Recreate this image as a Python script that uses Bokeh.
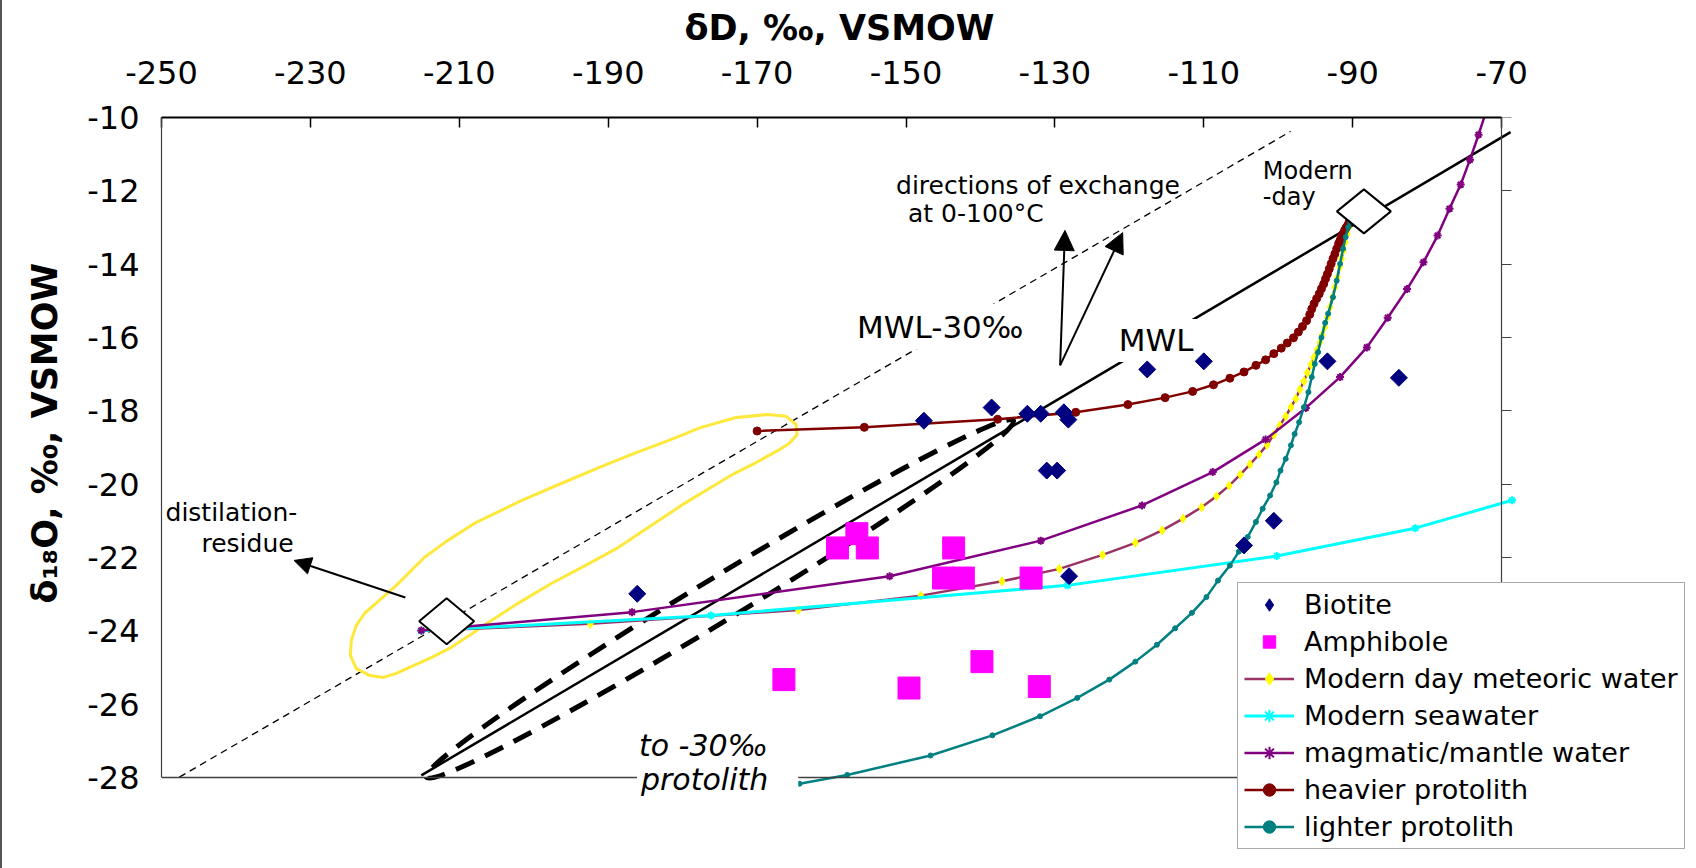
import numpy as np
from bokeh.plotting import figure
from bokeh.models import (Range1d, LinearAxis, FixedTicker, Label, Arrow, NormalHead,
                          Legend, LegendItem, Title)
from bokeh.embed import file_html
from bokeh.resources import INLINE

# ---------------- data ----------------
x_ticks = [-250, -230, -210, -190, -170, -150, -130, -110, -90, -70]
y_ticks = [-10, -12, -14, -16, -18, -20, -22, -24, -26, -28]

biotite_dD = [-186.1, -147.6, -138.5, -133.7, -131.9, -128.8, -128.2, -131.1, -129.7,
              -128.1, -117.6, -110.0, -104.6, -100.6, -93.4, -83.8]
biotite_d18O = [-22.99, -18.27, -17.91, -18.08, -18.08, -18.04, -18.24, -19.63, -19.63,
                -22.51, -16.87, -16.65, -21.67, -21.0, -16.65, -17.1]

amph_dD = [-166.4, -159.2, -156.6, -155.2, -149.6, -144.96, -143.6, -142.3, -139.8, -133.2, -132.1]
amph_d18O = [-25.33, -21.74, -21.35, -21.74, -25.56, -22.56, -21.74, -22.56, -24.84, -22.56, -25.52]

meteoric_dD = [-215.1, -192.4, -164.45, -148.0, -137.1, -129.4, -123.6, -119.2, -115.6, -112.8,
               -110.3, -108.3, -106.6, -105.1, -103.8, -102.6, -101.5, -100.6, -99.8, -99.0,
               -98.3, -97.65, -97.1, -96.55, -96.1, -95.6, -95.2, -94.8, -94.4, -94.1,
               -93.75, -93.4, -93.05, -92.7, -92.4, -92.05, -91.75, -91.5, -91.25, -91.0,
               -90.75, -90.5]
meteoric_d18O = [-24.0, -23.81, -23.43, -23.04, -22.65, -22.31, -21.93, -21.6, -21.26, -20.94,
                 -20.63, -20.33, -20.04, -19.74, -19.46, -19.19, -18.93, -18.65, -18.4, -18.15,
                 -17.9, -17.67, -17.42, -17.19, -16.96, -16.74, -16.54, -16.34, -16.13, -15.93,
                 -15.72, -15.45, -15.17, -14.9, -14.63, -14.36, -14.08, -13.85, -13.63, -13.4,
                 -13.18, -12.99]

seawater_dD = [-215.1, -176.2, -128.3, -100.2, -81.6, -68.6]
seawater_d18O = [-24.0, -23.58, -22.76, -21.96, -21.2, -20.44]

magmatic_dD = [-215.1, -186.8, -152.2, -131.9, -118.3, -108.8, -101.7, -96.3, -91.7, -88.1,
               -85.3, -82.7, -80.5, -78.6, -77.0, -75.5, -74.25, -73.1, -71.9]
magmatic_d18O = [-23.99, -23.49, -22.51, -21.54, -20.58, -19.67, -18.78, -17.92, -17.08, -16.27,
                 -15.46, -14.68, -13.95, -13.22, -12.49, -11.83, -11.15, -10.47, -9.72]

heavier_dD = [-170.0, -155.6, -137.7, -127.2, -120.2, -115.2, -111.5, -108.7, -106.5, -104.6,
              -103.0, -101.7, -100.6, -99.6, -98.8, -97.96, -97.3, -96.75, -96.2, -95.77,
              -95.5, -95.2, -94.85, -94.5, -94.2, -93.9, -93.65, -93.4, -93.15, -92.9,
              -92.65, -92.4, -92.15, -91.9, -91.7, -91.5, -91.3, -91.1, -90.9, -90.7, -90.5]
heavier_d18O = [-18.55, -18.45, -18.23, -18.04, -17.83, -17.64, -17.47, -17.29, -17.11, -16.94,
                -16.76, -16.61, -16.44, -16.29, -16.15, -16.01, -15.85, -15.70, -15.54, -15.37,
                -15.22, -15.08, -14.94, -14.81, -14.67, -14.54, -14.4, -14.27, -14.13, -13.99,
                -13.85, -13.72, -13.58, -13.44, -13.35, -13.26, -13.17, -13.08, -13.01, -12.95, -12.86]

lighter_dD = [-164.3, -157.9, -146.7, -138.4, -132.0, -127.0, -122.7, -119.2, -116.3, -113.85,
              -111.6, -109.65, -108.1, -106.5, -105.3, -104.1, -103.0, -102.1, -101.1, -100.25,
              -99.7, -99.0, -98.3, -97.8, -97.2, -96.55, -95.95, -95.5, -95.1, -94.65,
              -94.2, -93.7, -93.3, -92.65, -92.15, -91.7, -91.3, -90.95, -90.6, -90.35]
lighter_d18O = [-28.17, -27.93, -27.4, -26.85, -26.33, -25.83, -25.33, -24.84, -24.38, -23.93,
                -23.51, -23.08, -22.63, -22.22, -21.84, -21.44, -21.03, -20.67, -20.31, -19.95,
                -19.63, -19.31, -18.94, -18.63, -18.31, -17.9, -17.49, -17.08, -16.72, -16.4,
                -16.0, -15.6, -15.35, -14.9, -14.45, -13.99, -13.58, -13.26, -12.99, -12.86]

mwl_dD = [-215.1, -68.8]
mwl_d18O = [-27.94, -10.4]
mwl30_dD = [-247.6, -98.35]
mwl30_d18O = [-27.99, -10.38]

# reference compositions: Modern-day water, distillation residue
ref_dD = [-88.5, -211.7]
ref_d18O = [-12.56, -23.74]

# hand-drawn "distillation residue" outline
resid_dD = [-222.0, -223.83, -224.63, -224.5, -223.83, -222.62, -220.74, -218.46, -214.7, -211.74,
            -207.99, -201.68, -195.37, -190.94, -186.51, -181.95, -177.52, -172.82, -168.52, -166.11,
            -164.77, -164.63, -165.7, -167.18, -170.13, -173.09, -176.44, -179.8, -184.23, -188.66,
            -193.09, -197.65, -201.95, -206.11, -208.66, -211.07, -213.76, -216.17, -218.46, -220.2]
resid_d18O = [-25.22, -25.03, -24.67, -24.26, -23.85, -23.5, -23.17, -22.76, -22.0, -21.56,
              -21.07, -20.45, -19.9, -19.52, -19.16, -18.81, -18.45, -18.18, -18.1, -18.15,
              -18.37, -18.65, -18.89, -19.08, -19.41, -19.71, -20.12, -20.53, -21.13, -21.73,
              -22.22, -22.71, -23.23, -23.77, -24.13, -24.45, -24.73, -24.95, -25.16, -25.27]

# ---------------- layout ----------------
OX = 2                       # chart-area border at the far left (css border)
W, H = 1696 - OX, 868
BOX_LEFT = 160               # page x of the plot box's left edge
ML, MR, MT, MB = BOX_LEFT - OX, 0, 117, 4
FW, FH = W - ML - MR, H - MT - MB
BOX_X, BOX_Y = (-250, -70), (-28, -10)      # the drawn plot box
px_x = 1341 / (BOX_X[1] - BOX_X[0])          # pixels per unit inside the box
px_y = 660 / (BOX_Y[1] - BOX_Y[0])
x_range = Range1d(BOX_X[0], BOX_X[0] + FW / px_x)
y_range = Range1d(BOX_Y[1] - FH / px_y, BOX_Y[1])

FONT = "DejaVu Sans"

p = figure(width=W, height=H, x_range=x_range, y_range=y_range,
           x_axis_location="above", output_backend="svg", toolbar_location=None,
           min_border_left=ML, min_border_right=MR, min_border_top=MT, min_border_bottom=MB,
           background_fill_color="white", border_fill_color="white")
p.styles = {"border-left": "2px solid #555555"}
p.outline_line_color = None
p.xgrid.visible = False
p.ygrid.visible = False

# x-axis title (placed above the box, not centred on the wider frame)
p.title.text = "δD, ‰, VSMOW"
p.title.align = "left"
p.title.offset = 523
p.title.standoff = 15
p.title.text_font = FONT
p.title.text_font_size = "35px"
p.title.text_font_style = "bold"
p.title.text_color = "black"
p.title.vertical_align = "top"

xa = p.xaxis[0]
xa.ticker = FixedTicker(ticks=x_ticks)
xa.bounds = BOX_X
xa.major_label_overrides = {t: str(t) for t in x_ticks}
xa.major_label_text_font = FONT
xa.major_label_text_font_size = "32px"
xa.major_label_text_color = "black"
xa.major_label_standoff = 34
xa.major_tick_in = 10
xa.major_tick_out = 0
xa.major_tick_line_width = 1.5
xa.minor_tick_in = 0
xa.minor_tick_out = 0
xa.axis_line_width = 2
xa.axis_line_color = "black"

ya = p.yaxis[0]
ya.ticker = FixedTicker(ticks=y_ticks)
ya.bounds = BOX_Y
ya.major_label_overrides = {t: str(t) for t in y_ticks}
ya.major_label_text_font = FONT
ya.major_label_text_font_size = "32px"
ya.major_label_text_color = "black"
ya.major_label_standoff = 22
ya.major_tick_in = 0
ya.major_tick_out = 0
ya.minor_tick_in = 0
ya.minor_tick_out = 0
ya.axis_line_color = "#404040"
ya.axis_line_width = 1.2

# right edge of the box (ticks pointing outwards), drawn at x = -70
ra = LinearAxis(ticker=FixedTicker(ticks=y_ticks), fixed_location=BOX_X[1], bounds=BOX_Y,
                major_tick_in=10, major_tick_out=0, minor_tick_in=0, minor_tick_out=0,
                major_label_overrides={t: "" for t in y_ticks}, major_label_standoff=0,
                major_label_text_color=None, axis_line_color="#404040",
                major_tick_line_color="#404040", axis_line_width=1.2)
p.add_layout(ra, "left")
# bottom edge of the box, drawn at y = -28
ba = LinearAxis(ticker=FixedTicker(ticks=[]), fixed_location=BOX_Y[0], bounds=BOX_X,
                major_tick_out=0, major_tick_in=0, minor_tick_in=0, minor_tick_out=0,
                major_label_text_color=None, axis_line_color="#404040", axis_line_width=1.5)
p.add_layout(ba, "below")

# y-axis title
p.add_layout(Title(text="δ₁₈O, ‰, VSMOW", align="left", offset=FH + MT - 603,
                   standoff=40, vertical_align="bottom", text_font=FONT, text_font_size="35px",
                   text_font_style="bold", text_color="black"), "left")

# ---------------- reference lines ----------------
p.line(mwl_dD, mwl_d18O, line_color="black", line_width=2.5)
p.line(mwl30_dD, mwl30_d18O, line_color="black", line_width=1.3, line_dash="7 5")

p.patch(resid_dD, resid_d18O, fill_color=None, line_color="#FFE83C", line_width=3)

p.ellipse(x=[-175.0], y=[-23.13], width=687, height=43, angle=0.546,
          width_units="screen", height_units="screen",
          fill_color=None, line_color="black", line_width=5, line_dash="20 12")

# ---------------- model curves ----------------
C_MET, C_SEA, C_MAG, C_HEV, C_LIG = "#993366", "#00FFFF", "#800080", "#800000", "#008080"

r_met_l = p.line(meteoric_dD, meteoric_d18O, line_color=C_MET, line_width=2.5)
r_met_m = p.scatter(meteoric_dD, meteoric_d18O, marker="diamond", size=9,
                    fill_color="#FFFF00", line_color="#FFFF00")
r_sea_l = p.line(seawater_dD, seawater_d18O, line_color=C_SEA, line_width=3)
r_sea_m = p.scatter(seawater_dD, seawater_d18O, marker="asterisk", size=8,
                    line_color=C_SEA, line_width=2)
r_mag_l = p.line(magmatic_dD, magmatic_d18O, line_color=C_MAG, line_width=2.5)
r_mag_m = p.scatter(magmatic_dD, magmatic_d18O, marker="asterisk", size=8,
                    line_color=C_MAG, line_width=2)
r_hev_l = p.line(heavier_dD, heavier_d18O, line_color=C_HEV, line_width=2.5)
r_hev_m = p.scatter(heavier_dD, heavier_d18O, marker="circle", size=8,
                    fill_color=C_HEV, line_color=C_HEV)
r_lig_l = p.line(lighter_dD, lighter_d18O, line_color=C_LIG, line_width=2.5)
r_lig_m = p.scatter(lighter_dD, lighter_d18O, marker="circle", size=5,
                    fill_color=C_LIG, line_color=C_LIG)

# ---------------- samples ----------------
r_amph = p.scatter(amph_dD, amph_d18O, marker="square", size=22,
                   fill_color="#FF00FF", line_color="#FF00FF")
# diamond glyph (used for the legend key) lies fully under the rotated squares
r_bio_key = p.scatter(biotite_dD, biotite_d18O, marker="diamond", size=14,
                      fill_color="#000080", line_color="#000080", level="overlay")
r_bio = p.scatter(biotite_dD, biotite_d18O, marker="square", size=12, angle=np.pi / 4,
                  fill_color="#000080", line_color="#000080", level="overlay")

# reference composition diamonds (white)
half_w = [27, 27.5]
half_h = [22, 23]
dia_xs = [[x - w / px_x, x, x + w / px_x, x] for x, w in zip(ref_dD, half_w)]
dia_ys = [[y, y + h / px_y, y, y - h / px_y] for y, h in zip(ref_d18O, half_h)]
p.patches(dia_xs, dia_ys, fill_color="white", line_color="black", line_width=2)

# ---------------- annotations ----------------
head = dict(fill_color="black", line_color="black", line_width=1)
exch_start = (-129.3, -16.76)
for ex, ey in [(-128.65, -13.08), (-120.9, -13.14)]:
    p.add_layout(Arrow(end=NormalHead(size=20, **head), x_start=exch_start[0],
                       y_start=exch_start[1], x_end=ex, y_end=ey,
                       line_color="black", line_width=2))
p.add_layout(Arrow(end=NormalHead(size=17, **head), x_start=-217.25, y_start=-23.09,
                   x_end=-232.2, y_end=-22.08, line_color="black", line_width=2))


def lab(x, y, text, size, bg=None, pad=0, style="normal", nudge=(0, 0)):
    """Text label at (x, y) in data units, nudged by (dx, dy) screen pixels."""
    kw = dict(x=x + nudge[0] / px_x, y=y + nudge[1] / px_y, text=text, text_font=FONT,
              text_font_size=size, text_color="black", text_baseline="alphabetic",
              text_align="left", text_font_style=style)
    if bg:
        kw.update(background_fill_color=bg, padding=pad)
    p.add_layout(Label(**kw))


lab(-151.34, -12.13, "directions of exchange", "25px", nudge=(0, 10))
lab(-149.73, -12.89, "at 0-100°C", "25px", nudge=(0, 10))
lab(-102.08, -11.72, "Modern", "24px", nudge=(0, 10))
lab(-102.08, -12.45, "-day", "24px", nudge=(0, 10))
lab(-156.44, -16.03, "MWL-30‰", "31px", bg="white", pad=5, nudge=(-6, 12))
lab(-121.41, -16.41, "MWL", "31px", bg="white",
    pad=dict(left=3, right=8, top=3, bottom=4), nudge=(-3, 12))
lab(-249.46, -21.05, "distilation-", "25px", nudge=(0, 10))
lab(-244.63, -21.89, "residue", "25px", nudge=(0, 10))
lab(-185.6, -27.26, "to -30‰", "30px", bg="white",
    pad=dict(left=4, right=12, top=4, bottom=2), style="italic", nudge=(-6, 6))
lab(-185.6, -28.25, "protolith", "30px", bg="white",
    pad=dict(left=4, right=30, top=2, bottom=12), style="italic", nudge=(-4, 2))

# ---------------- legend ----------------
legend = Legend(items=[
    LegendItem(label="Biotite", renderers=[r_bio_key]),
    LegendItem(label="Amphibole", renderers=[r_amph]),
    LegendItem(label="Modern day meteoric water", renderers=[r_met_l, r_met_m]),
    LegendItem(label="Modern seawater", renderers=[r_sea_l, r_sea_m]),
    LegendItem(label="magmatic/mantle water", renderers=[r_mag_l, r_mag_m]),
    LegendItem(label="heavier protolith", renderers=[r_hev_l, r_hev_m]),
    LegendItem(label="lighter protolith", renderers=[r_lig_l, r_lig_m]),
], location=(1236 - BOX_LEFT, H - MB - 849))
legend.label_text_font = FONT
legend.label_text_font_size = "27px"
legend.label_text_color = "black"
legend.glyph_width = 50
legend.glyph_height = 31
legend.label_height = 31
legend.spacing = 6
legend.padding = 6
legend.margin = 0
legend.label_standoff = 10
legend.border_line_color = "#555555"
legend.border_line_width = 1.5
legend.background_fill_color = "white"
legend.background_fill_alpha = 1.0
p.add_layout(legend)

open("out.html", "w").write(file_html(p, INLINE, title="dD vs d18O"))
